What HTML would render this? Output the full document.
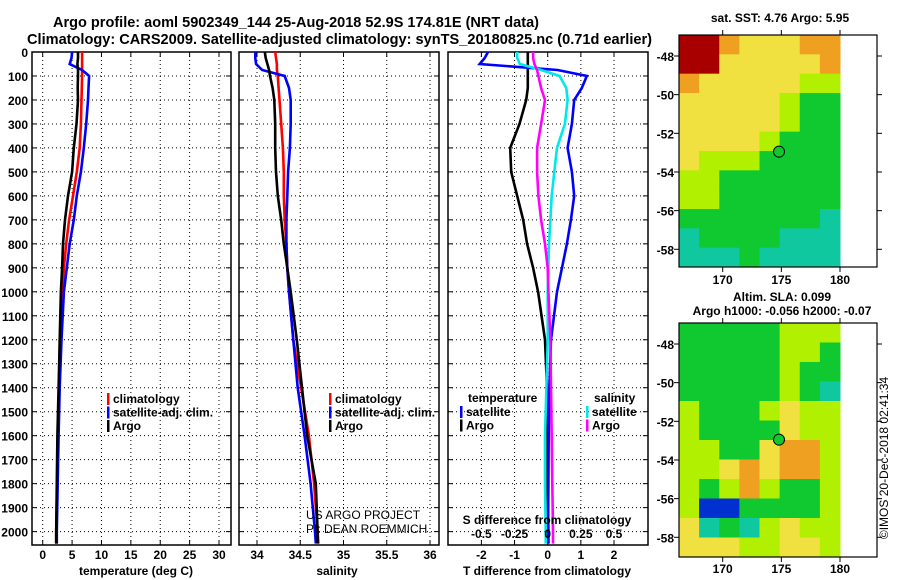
<!DOCTYPE html>
<html><head><meta charset="utf-8"><style>
html,body{margin:0;padding:0;background:#fff;}
svg{display:block;font-family:"Liberation Sans",sans-serif;font-weight:bold;}
</style></head><body>
<svg id="c" width="900" height="580" xmlns="http://www.w3.org/2000/svg">
<text x="53" y="27" font-size="15" textLength="486" lengthAdjust="spacingAndGlyphs">Argo profile: aoml 5902349_144 25-Aug-2018 52.9S 174.81E (NRT data)</text>
<text x="27" y="44" font-size="15" textLength="625" lengthAdjust="spacingAndGlyphs">Climatology: CARS2009. Satellite-adjusted climatology: synTS_20180825.nc (0.71d earlier)</text>
<g id="plots"></g>
<text x="306" y="519" font-size="12" font-weight="normal">US ARGO PROJECT</text>
<text x="306" y="533" font-size="12" font-weight="normal">PI: DEAN ROEMMICH</text>
<text x="780" y="22" font-size="12" text-anchor="middle">sat. SST: 4.76 Argo: 5.95</text>
<text x="782" y="301" font-size="12" text-anchor="middle">Altim. SLA: 0.099</text>
<text x="782" y="315" font-size="12" text-anchor="middle">Argo h1000: -0.056 h2000: -0.07</text>
<text transform="translate(888,458) rotate(-90)" font-size="12" font-weight="normal" text-anchor="middle">©IMOS 20-Dec-2018 02:41:34</text>
</svg>
<script>
const depths=[0,25,50,75,100,150,200,300,400,500,600,700,800,900,1000,1200,1400,1600,1800,2000,2050];
const tempClim=[6.7,6.7,6.7,6.7,6.7,6.65,6.6,6.5,6.3,5.8,5.15,4.5,4.0,3.6,3.4,3.0,2.8,2.6,2.45,2.3,2.3];
const tempSat=[5.0,4.9,4.6,6.7,7.9,7.8,7.7,7.4,7.0,6.5,5.8,5.3,4.6,4.1,3.6,3.2,2.9,2.7,2.55,2.4,2.4];
const tempArgo=[6.0,6.0,5.9,6.0,6.0,5.95,6.0,5.75,5.3,5.0,4.3,3.8,3.45,3.3,3.1,2.9,2.7,2.5,2.4,2.3,2.3];
const salClim=[34.21,34.22,34.23,34.23,34.24,34.25,34.26,34.28,34.3,34.31,34.31,34.32,34.34,34.35,34.37,34.42,34.51,34.6,34.66,34.7,34.71];
const salSat=[33.98,33.98,33.99,34.06,34.32,34.37,34.39,34.39,34.38,34.36,34.35,34.34,34.34,34.35,34.37,34.42,34.47,34.55,34.62,34.67,34.68];
const salArgo=[34.09,34.1,34.12,34.14,34.15,34.18,34.2,34.21,34.21,34.22,34.24,34.28,34.31,34.35,34.39,34.46,34.52,34.58,34.68,34.7,34.7];
const tDiffSat=[-1.8,-1.9,-2.05,0.3,1.18,1.03,0.8,0.73,0.6,0.73,0.8,0.7,0.58,0.43,0.28,0.1,0.05,0.03,0.02,0.01,0];
const tDiffArgo=[-0.6,-0.6,-0.6,-0.6,-0.6,-0.6,-0.65,-0.85,-1.13,-1.1,-0.92,-0.74,-0.62,-0.44,-0.29,-0.08,-0.02,0,0,0.02,0.02];
const sDiffSat=[-0.23,-0.23,-0.21,-0.05,0.09,0.14,0.15,0.13,0.07,0.05,0.03,0.02,0.01,0.005,0,0,-0.01,-0.02,-0.02,-0.015,-0.015];
const sDiffArgo=[-0.11,-0.11,-0.1,-0.08,-0.07,-0.05,-0.02,-0.05,-0.08,-0.08,-0.07,-0.05,-0.02,0,0.005,0.02,0.025,0.03,0.035,0.04,0.04];
const depthTicks=[0,100,200,300,400,500,600,700,800,900,1000,1100,1200,1300,1400,1500,1600,1700,1800,1900,2000];
const tempTicks=[0,5,10,15,20,25,30];
const salTicks=[34,34.5,35,35.5,36];
const salTickLabels=["34","34.5","35","35.5","36"];
const tdTicks=[-2,-1,0,1,2];
const sdTicks=[-0.5,-0.25,0,0.25,0.5];
const sdTickLabels=["-0.5","-0.25","0","0.25","0.5"];
const lons=[170,175,180];
const lats=[-48,-50,-52,-54,-56,-58];
const sstGrid=[
[0,0,1,2,2,2,1,1],[0,0,2,2,2,2,2,1],[1,2,2,2,2,2,3,3],[2,2,2,2,2,3,4,4],
[2,2,2,2,2,3,4,4],[2,2,2,2,3,4,4,4],[2,3,3,3,4,4,4,4],[3,3,4,4,4,4,4,4],
[3,3,4,4,4,4,4,4],[4,4,4,4,4,4,4,5],[5,4,4,4,4,5,5,5],[5,5,5,4,5,5,5,5]];
const slaGrid=[
[4,4,4,4,4,3,3,3],[4,4,4,4,4,3,3,4],[4,4,4,4,4,3,4,4],[4,4,4,4,4,3,4,5],
[3,4,4,4,3,2,3,3],[3,4,4,4,4,2,3,3],[3,3,4,4,2,1,1,3],[3,3,2,1,2,1,1,3],
[3,4,3,1,3,4,4,3],[3,6,6,4,4,4,4,3],[2,5,4,5,3,2,3,3],[2,2,2,3,3,2,2,3]];
const palette=["#a80000","#f0a020","#f0e040","#b0f000","#10c830","#10c8a0","#0030d0"];
const argoLon=174.8, argoLat=-52.95;

const NS="http://www.w3.org/2000/svg";
const root=document.getElementById('plots');
function mk(tag,attrs,parent){const e=document.createElementNS(NS,tag);for(const k in attrs)e.setAttribute(k,attrs[k]);(parent||root).appendChild(e);return e;}
const Y0=52,Y1=545;
const yScale=d=>Y0+d*0.2398;
function lin(d0,d1,r0,r1){return v=>r0+(v-d0)*(r1-r0)/(d1-d0);}

function panel(name,x0,x1,xs,ticks,labels,showY){
  const g=mk('g',{});
  
  
  for(const d of depthTicks){const y=yScale(d);
    const l=mk('line',{x1:x0,x2:x1,y1:y,y2:y,stroke:'#000','stroke-width':1,'stroke-dasharray':'1 3'},g);
    
    
    mk('line',{x1:x0,x2:x0+5,y1:y,y2:y,stroke:'#000'},g);
    mk('line',{x1:x1-5,x2:x1,y1:y,y2:y,stroke:'#000'},g);
    if(showY){const t=mk('text',{x:28,y:y+5,'font-size':12,'text-anchor':'end'},g);t.textContent=d;
      
      }
  }
  ticks.forEach((v,i)=>{const x=xs(v);
    mk('line',{x1:x,x2:x,y1:Y0,y2:Y1,stroke:'#000','stroke-dasharray':'1 3'},g);
    mk('line',{x1:x,x2:x,y1:Y1,y2:Y1-5,stroke:'#000'},g);
    mk('line',{x1:x,x2:x,y1:Y0,y2:Y0+5,stroke:'#000'},g);
    if(labels){const t=mk('text',{x:x,y:559,'font-size':12,'text-anchor':'middle'},g);t.textContent=labels[i];
      
      }
  });
  const r=mk('rect',{x:x0,y:Y0,width:x1-x0,height:Y1-Y0,fill:'none',stroke:'#000','stroke-width':1.5},g);
  
  
  return g;
}
function series(g,vals,xs,color,name){
  const pts=vals.map((v,i)=>xs(v).toFixed(1)+','+yScale(depths[i]).toFixed(1)).join(' ');
  const p=mk('polyline',{points:pts,fill:'none',stroke:color,'stroke-width':2.6,'stroke-linejoin':'miter'},g);
  
  
}
function legend(g,x,y,items){
  items.forEach((it,i)=>{const yy=y+i*13.5;
    mk('rect',{x:x,y:yy-10,width:2.5,height:12,fill:it[1]},g);
    const t=mk('text',{x:x+6,y:yy,'font-size':12},g);t.textContent=it[0];
    
    });
}
function label(g,txt,x,y,name){const t=mk('text',{x:x,y:y,'font-size':12,'text-anchor':'middle'},g);t.textContent=txt;
  
  }

const xT=lin(0,30,42.7,219);
const g1=panel('temperature-panel',32,231,xT,tempTicks,tempTicks.map(String),true);
series(g1,tempClim,xT,'#ff0000','temp-climatology-line');
series(g1,tempSat,xT,'#0000ff','temp-satellite-line');
series(g1,tempArgo,xT,'#000000','temp-argo-line');
legend(g1,107,403,[['climatology','#ff0000'],['satellite-adj. clim.','#0000ff'],['Argo','#000']]);
label(g1,'temperature (deg C)',136,575,'x-axis-title-temperature');
const xS=lin(34,36,257,430);
const g2=panel('salinity-panel',239,439,xS,salTicks,salTickLabels,false);
series(g2,salClim,xS,'#ff0000','sal-climatology-line');
series(g2,salSat,xS,'#0000ff','sal-satellite-line');
series(g2,salArgo,xS,'#000000','sal-argo-line');
legend(g2,329,403,[['climatology','#ff0000'],['satellite-adj. clim.','#0000ff'],['Argo','#000']]);
label(g2,'salinity',337,575,'x-axis-title-salinity');
const xD=lin(0,2,547.7,614);
const xSD=lin(0,0.5,547.7,614);
const g3=panel('difference-panel',448,648,xD,tdTicks,null,false);
series(g3,tDiffArgo,xD,'#000000','tdiff-argo-line');
series(g3,tDiffSat,xD,'#0000ff','tdiff-satellite-line');
series(g3,sDiffSat,xSD,'#00e8e8','sdiff-satellite-line');
series(g3,sDiffArgo,xSD,'#ff00ff','sdiff-argo-line');
const tl=mk('text',{x:468,y:402,'font-size':12},g3);tl.textContent='temperature';


const sl=mk('text',{x:594,y:402,'font-size':12},g3);sl.textContent='salinity';


legend(g3,460,416,[['satellite','#0000ff'],['Argo','#000']]);
legend(g3,586,416,[['satellite','#00e8e8'],['Argo','#ff00ff']]);
label(g3,'S difference from climatology',547,524,'s-diff-axis-title');
sdTicks.forEach((v,i)=>{const t=mk('text',{x:xSD(v),y:538,'font-size':12,'text-anchor':'middle'},g3);t.textContent=sdTickLabels[i];
  
  });
tdTicks.forEach(v=>{const t=mk('text',{x:xD(v),y:559,'font-size':12,'text-anchor':'middle'},g3);t.textContent=String(v);
  
  });
label(g3,'T difference from climatology',547,575,'t-diff-axis-title');

function map(name,top,bottom,grid,lonY){
  const g=mk('g',{});
  
  
  const lx=lin(170,180,722.7,840), ly=lin(-48,-58,top+21,top+214.3);
  const x0=679,x1=840;
  const nr=grid.length,nc=grid[0].length;
  const cw=(x1-x0)/nc,ch=(bottom-top)/nr;
  grid.forEach((row,r)=>row.forEach((v,c)=>{
    const cell=mk('rect',{x:x0+c*cw,y:top+r*ch,width:cw+0.5,height:ch+0.5,fill:palette[v]},g);
    
    
  }));
  const fr=mk('rect',{x:679,y:top,width:198,height:bottom-top,fill:'none',stroke:'#000','stroke-width':1.2},g);
  
  
  lats.forEach(v=>{const y=ly(v);
    mk('line',{x1:674,x2:679,y1:y,y2:y,stroke:'#000'},g);
    mk('line',{x1:877,x2:882,y1:y,y2:y,stroke:'#000'},g);
    const t=mk('text',{x:674,y:y+5,'font-size':12,'text-anchor':'end'},g);t.textContent=String(v);
    
    });
  lons.forEach(v=>{const x=lx(v);
    mk('line',{x1:x,x2:x,y1:top-5,y2:top,stroke:'#000'},g);
    mk('line',{x1:x,x2:x,y1:bottom,y2:bottom+5,stroke:'#000'},g);
    const t=mk('text',{x:x,y:lonY,'font-size':12,'text-anchor':'middle'},g);t.textContent=String(v);
    
    });
  const m=mk('circle',{cx:lx(argoLon),cy:ly(argoLat),r:5.5,fill:'#10c830',stroke:'#000','stroke-width':1},g);
  
  
}
map('sst-map',35,267,sstGrid,284);
map('sla-map',323,557,slaGrid,573);
</script>
</body></html>
